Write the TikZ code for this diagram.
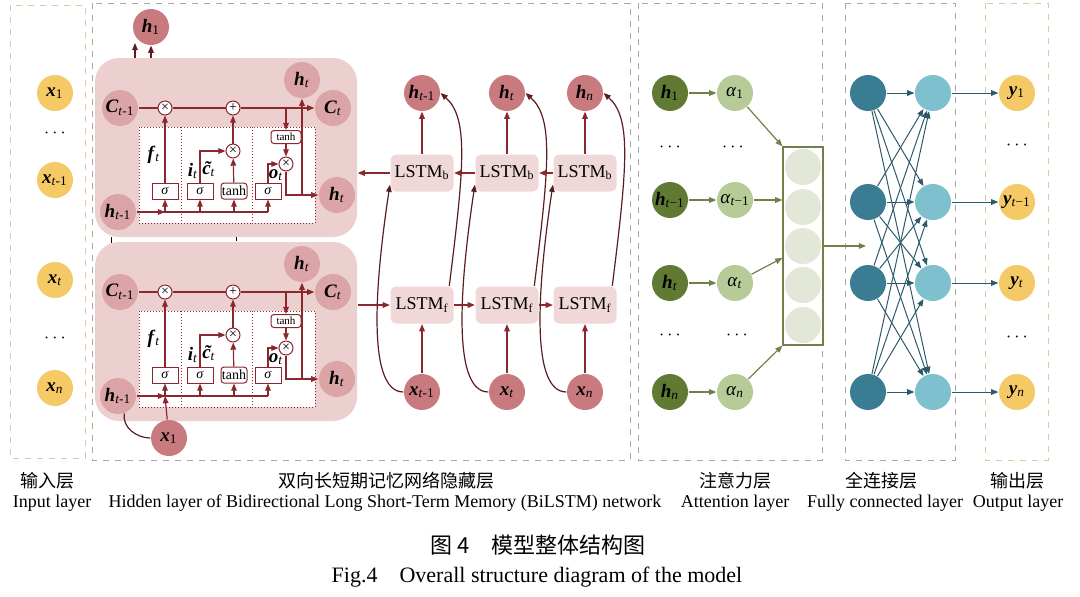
\documentclass[tikz,border=0pt]{standalone}
\usepackage{fontspec}
\setmainfont{Liberation Serif}
\newfontfamily\cjk{Noto Sans CJK SC}
\usetikzlibrary{arrows.meta,positioning}

\definecolor{yel}{RGB}{244,201,102}
\definecolor{tanf}{RGB}{222,200,160}
\definecolor{cellbgc}{RGB}{236,208,208}
\definecolor{cellc}{RGB}{219,164,167}
\definecolor{hidc}{RGB}{200,122,126}
\definecolor{lstmc}{RGB}{241,216,216}
\definecolor{redA}{RGB}{138,40,45}
\definecolor{redB}{RGB}{92,28,32}
\definecolor{grD}{RGB}{96,122,52}
\definecolor{grL}{RGB}{183,203,152}
\definecolor{grA}{RGB}{227,231,216}
\definecolor{olv}{RGB}{112,128,72}
\definecolor{tlD}{RGB}{58,125,146}
\definecolor{tlL}{RGB}{127,192,206}
\definecolor{tlA}{RGB}{44,90,108}

\newcommand\bv[2]{\textbf{\textit{#1}}\textsubscript{#2}}
\newcommand\sbt{\textit{t}}
\newcommand\ctil{\makebox[0pt][l]{\hspace{0.1em}\textbf{\textit{˜}}}\textbf{\textit{c}}}

\begin{document}
\begin{tikzpicture}[x=0.5pt, y=-0.5pt, >={Triangle[length=3.6pt,width=2.8pt]},
    line width=0.6pt,
    lab/.style={font=\fontsize{9.5}{10}\selectfont},
    ball/.style={circle, inner sep=0pt, minimum size=18pt, lab},
    inp/.style={ball, fill=yel},
    cc/.style={ball, fill=cellc},
    hc/.style={ball, fill=hidc},
    gdark/.style={ball, fill=grD},
    glight/.style={ball, fill=grL},
    cellbg/.style={fill=cellbgc, rounded corners=12pt, minimum width=131pt, minimum height=89.5pt, inner sep=0pt},
    gate/.style={draw=redA, fill=white, inner sep=0pt, minimum width=13pt, minimum height=8pt, line width=0.5pt, font=\fontsize{7}{7}\selectfont},
    op/.style={circle, draw=redA, fill=white, inner sep=0pt, minimum size=7pt, line width=0.5pt, font=\fontsize{7}{7}\selectfont},
    dotbox/.style={draw=redA, densely dotted, fill=white, line width=0.5pt},
    lstm/.style={fill=lstmc, rounded corners=3pt, minimum width=31.5pt, minimum height=18.5pt, inner sep=0pt, font=\fontsize{9}{9}\selectfont},
    attbox/.style={draw=olv, minimum width=20pt, minimum height=99pt, inner sep=0pt},
    dots/.style={font=\fontsize{9}{9}\selectfont},
    frameG/.style={dashed, draw=gray!70, line width=0.4pt},
    frameY/.style={dashed, draw=tanf, line width=0.5pt},
    rarr/.style={->, draw=redA},
    carr/.style={->, draw=redB},
    garr/.style={->, draw=olv},
    tarr/.style={->, draw=tlA, line width=0.5pt},
    zh/.style={font=\cjk\fontsize{9}{10}\selectfont},
    en/.style={font=\fontsize{9}{10}\selectfont},
    captxt/.style={font=\fontsize{11}{12}\selectfont}]

  \useasboundingbox (0,0) rectangle (1080,596);

  % --- Layer frames ---
  \draw[frameY] (10,5) rectangle (85,458);
  \draw[frameG] (92,3) rectangle (630,460);
  \draw[frameG] (638,3) rectangle (822,460);
  \draw[frameG] (845,3) rectangle (955,460);
  \draw[frameY] (985,3) rectangle (1048,460);

  % --- Input layer ---
  \node[inp] (xi1) at (55,93) {\bv{x}{1}};
  \node[dots] (xd1) at (55,133) {$\cdots$};
  \node[inp] (xi2) at (55,180) {\bv{x}{\sbt-1}};
  \node[inp] (xi3) at (55,280) {\bv{x}{\sbt}};
  \node[dots] (xd2) at (55,338) {$\cdots$};
  \node[inp] (xi4) at (55,388) {\bv{x}{\textit{n}}};

  % --- LSTM cells (upper / lower) ---
  \foreach \cn/\dy in {u/0,d/184}{
    \begin{scope}[shift={(0,\dy)}]
      \node[cellbg] (\cn-cell) at (226,147.5) {};
      \draw[dotbox] (139,127) rectangle (181,223);
      \draw[dotbox] (181,127) rectangle (252,223);
      \draw[dotbox] (252,127) rectangle (315,223);
      \node[cc] (\cn-Cp) at (120,108) {\bv{C}{\sbt-1}};
      \node[cc] (\cn-Cn) at (333,108) {\bv{C}{\sbt}};
      \node[cc] (\cn-hp) at (118,212) {\bv{h}{\sbt-1}};
      \node[cc] (\cn-hn) at (337,195) {\bv{h}{\sbt}};
      \node[cc] (\cn-ht) at (302,80) {\bv{h}{\sbt}};
      \node[op] (\cn-mf) at (165,108) {×};
      \node[op] (\cn-ad) at (233,108) {+};
      \node[op] (\cn-mi) at (233,151) {×};
      \node[op] (\cn-mo) at (286,164) {×};
      \node[gate] (\cn-sf) at (165,191) {\textit{σ}};
      \node[gate] (\cn-si) at (200,191) {\textit{σ}};
      \node[gate, rounded corners=1.5pt] (\cn-tc) at (234,191) {tanh};
      \node[gate] (\cn-so) at (268,191) {\textit{σ}};
      \node[gate, rounded corners=1.5pt, font=\fontsize{5.5}{6}\selectfont, minimum width=15pt, minimum height=6.5pt] (\cn-tn) at (286,137) {tanh};
      \node[lab] (\cn-lf) at (154,155) {\bv{f}{\sbt}};
      \node[lab] (\cn-li) at (193,171) {\bv{i}{\sbt}};
      \node[lab] (\cn-lc) at (209,169) {\ctil\textsubscript{\sbt}};
      \node[lab] (\cn-lo) at (276,175) {\bv{o}{\sbt}};
      \coordinate (\cn-tap) at (286,108);
      \coordinate (\cn-hs) at (302,195);

      \draw[rarr] (\cn-Cp) -- (\cn-mf) -- (\cn-ad) -- (\cn-Cn);
      \draw[rarr] (\cn-sf) -- (\cn-mf);
      \draw[rarr] (\cn-si.north) |- (\cn-mi);
      \draw[rarr] (\cn-tc) -- (\cn-mi);
      \draw[rarr] (\cn-mi) -- (\cn-ad);
      \draw[rarr] (\cn-tap) -- (\cn-tn);
      \draw[rarr] (\cn-tn) -- (\cn-mo);
      \draw[rarr] (\cn-so.north) |- (\cn-mo);
      \draw[rarr] (\cn-mo) |- (\cn-hn);
      \draw[rarr] (\cn-hs) -- (\cn-ht);
      \draw[draw=redA] (\cn-hp) -- (\cn-so.south |- \cn-hp);
      \draw[rarr] (\cn-hp) -- (\cn-sf.south |- \cn-hp);
      \foreach \g in {sf,si,tc,so}
        \draw[rarr] (\cn-\g.south |- \cn-hp) -- (\cn-\g);
    \end{scope}
  }

  % upper cell output, lower cell input
  \node[hc] (h1) at (151,27) {\bv{h}{1}};
  \coordinate (ua) at (135,58);
  \coordinate (ub) at (151,58);
  \draw[carr] (ua) -- ++(0,-15);
  \draw[carr] (ub) -- (h1);
  \coordinate (sa) at (111,237);
  \coordinate (sb) at (236,237);
  \draw[line width=0.4pt] (sa) -- ++(0,6);
  \draw[line width=0.4pt] (sb) -- ++(0,4);
  \node[hc] (x1) at (169,438) {\bv{x}{1}};
  \draw[rarr] (x1) -- (d-sf.south |- d-hp);
  \draw[draw=redB] (d-hp.-70) to[out=-100,in=180] (x1.west);

  % --- BiLSTM unrolled ---
  \foreach \i/\x/\s in {1/422/{\sbt-1},2/507/{\sbt},3/585/{\textit{n}}}{
    \node[hc] (hb\i) at (\x,93) {\bv{h}{\s}};
    \node[lstm] (lb\i) at (\x,173) {LSTM\textsubscript{b}};
    \node[lstm] (lf\i) at (\x,305) {LSTM\textsubscript{f}};
    \node[hc] (xb\i) at (\x,392) {\bv{x}{\s}};
    \draw[rarr] (xb\i) -- (lf\i);
    \draw[rarr] (lb\i) -- (hb\i);
    \draw[carr] (xb\i.west) .. controls +(-40,0) and +(-12,80) .. (lb\i.-160);
    \draw[carr] (lf\i.35) .. controls +(15,-120) and +(28,25) .. (hb\i.east);
  }
  \draw[rarr] (lf1) -- (lf2);
  \draw[rarr] (lf2) -- (lf3);
  \draw[rarr] (lb3) -- (lb2);
  \draw[rarr] (lb2) -- (lb1);
  \draw[rarr] (lb1) -- (lb1 -| u-cell.east);
  \draw[rarr] (d-cell.east |- lf1) -- (lf1);

  % --- Attention layer ---
  \foreach \i/\y/\s in {1/93/1,2/200/{\sbt−1},3/283/{\sbt},4/392/{\textit{n}}}{
    \node[gdark] (ah\i) at (670,\y) {\bv{h}{\s}};
    \node[glight] (al\i) at (735,\y) {\textit{α}\textsubscript{\s}};
    \draw[garr] (ah\i) -- (al\i);
  }
  \node[dots] (ad1) at (670,147) {$\cdots$};
  \node[dots] (ad2) at (733,147) {$\cdots$};
  \node[dots] (ad3) at (670,335) {$\cdots$};
  \node[dots] (ad4) at (737,335) {$\cdots$};
  \node[attbox] (att) at (803,246) {};
  \foreach \k/\y in {1/167,2/207,3/246,4/285,5/325}
    \node[ball, fill=grA] (ac\k) at (803,\y) {};
  \draw[garr] (al1) -- (att.north west);
  \draw[garr] (al2) -- (att.west |- al2);
  \draw[garr] (al3) -- (att.-150);
  \draw[garr] (al4) -- (att.south west);
  \coordinate (fcin) at (866,246);
  \draw[garr] (att.east) -- (fcin);

  % --- Fully connected + output ---
  \foreach \i/\y/\s in {1/93/1,2/202/{\sbt−1},3/283/{\sbt},4/392/{\textit{n}}}{
    \node[ball, fill=tlD] (fa\i) at (868,\y) {};
    \node[ball, fill=tlL] (fb\i) at (933,\y) {};
    \node[inp] (yo\i) at (1017,\y) {\bv{y}{\s}};
  }
  \foreach \i in {1,...,4}{
    \foreach \j in {1,...,4}
      \draw[tarr] (fa\i) -- (fb\j);
    \draw[tarr] (fb\i) -- (yo\i);
  }
  \node[dots] (yd1) at (1017,145) {$\cdots$};
  \node[dots] (yd2) at (1017,337) {$\cdots$};

  % --- Layer names and caption ---
  \node[zh] (zl1) at (47,481) {输入层};
  \node[en] (el1) at (52,503) {Input layer};
  \node[zh] (zl2) at (386,481) {双向长短期记忆网络隐藏层};
  \node[en] (el2) at (385,503) {Hidden layer of Bidirectional Long Short-Term Memory (BiLSTM) network};
  \node[zh] (zl3) at (735,481) {注意力层};
  \node[en] (el3) at (735,503) {Attention layer};
  \node[zh] (zl4) at (881,481) {全连接层};
  \node[en] (el4) at (885,503) {Fully connected layer};
  \node[zh] (zl5) at (1017,481) {输出层};
  \node[en] (el5) at (1018,503) {Output layer};
  \node[font=\cjk\fontsize{11}{12}\selectfont] (cap1) at (538,545) {图 4\quad 模型整体结构图};
  \node[captxt] (cap2) at (537,577) {Fig.4\quad Overall structure diagram of the model};
\end{tikzpicture}
\end{document}
